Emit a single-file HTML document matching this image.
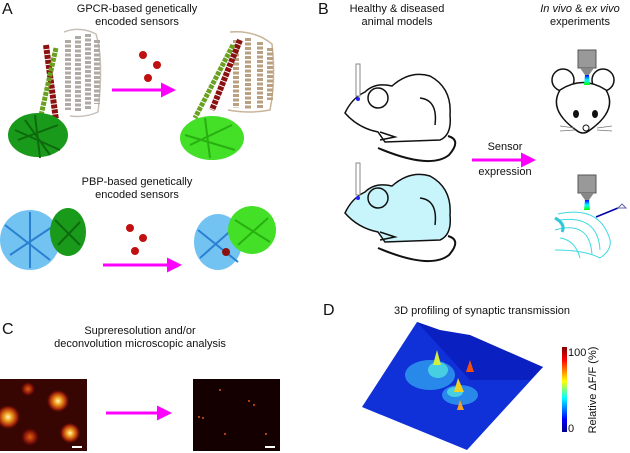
<!DOCTYPE html>
<html><head><meta charset="utf-8"><style>
html,body{margin:0;padding:0;background:#fff;}
svg{display:block;font-family:"Liberation Sans",sans-serif;}
</style></head><body>
<svg width="630" height="453" viewBox="0 0 630 453" xmlns="http://www.w3.org/2000/svg">
<defs>
<marker id="ah" markerWidth="5" markerHeight="5" refX="1" refY="2.5" orient="auto" markerUnits="strokeWidth"><path d="M0,0 L5,2.5 L0,5 z" fill="#f0f"/></marker>
<radialGradient id="blob"><stop offset="0" stop-color="#fff8c0"/><stop offset="0.3" stop-color="#f0a020"/><stop offset="0.7" stop-color="#a02008"/><stop offset="1" stop-color="#300000" stop-opacity="0"/></radialGradient>
<radialGradient id="blob2"><stop offset="0" stop-color="#e06010"/><stop offset="0.6" stop-color="#801008"/><stop offset="1" stop-color="#300000" stop-opacity="0"/></radialGradient>
<linearGradient id="cbar" x1="0" y1="1" x2="0" y2="0"><stop offset="0" stop-color="#00008f"/><stop offset="0.15" stop-color="#0000ff"/><stop offset="0.4" stop-color="#00ffff"/><stop offset="0.6" stop-color="#ffff00"/><stop offset="0.85" stop-color="#ff0000"/><stop offset="1" stop-color="#800000"/></linearGradient>
<linearGradient id="beam" x1="0" y1="0" x2="0" y2="1"><stop offset="0" stop-color="#00f"/><stop offset="0.5" stop-color="#0ff"/><stop offset="1" stop-color="#0f0"/></linearGradient>
</defs>
<g font-size="11" fill="#111" text-anchor="middle">
<text x="2" y="14" font-size="16" text-anchor="start">A</text>
<text x="137" y="12">GPCR-based genetically</text>
<text x="137" y="25">encoded sensors</text>
<text x="137" y="185">PBP-based genetically</text>
<text x="137" y="198">encoded sensors</text>
<text x="318" y="14" font-size="16" text-anchor="start">B</text>
<text x="397" y="12">Healthy &amp; diseased</text>
<text x="397" y="25">animal models</text>
<text x="580" y="12"><tspan font-style="italic">In vivo</tspan> &amp; <tspan font-style="italic">ex vivo</tspan></text>
<text x="580" y="25">experiments</text>
<text x="505" y="150">Sensor</text>
<text x="505" y="175">expression</text>
<text x="2" y="334" font-size="16" text-anchor="start">C</text>
<text x="140" y="334">Supreresolution and/or</text>
<text x="140" y="347">deconvolution microscopic analysis</text>
<text x="323" y="315" font-size="16" text-anchor="start">D</text>
<text x="482" y="314">3D profiling of synaptic transmission</text>
</g>
<!-- A GPCR left -->
<g fill="none">
<path d="M64,32 Q80,26 96,34 Q104,60 98,112 Q85,118 70,116" stroke="#c8c0b8" stroke-width="1.5"/>
<path d="M68,40 V110 M78,36 V112 M88,34 V110 M97,40 V104" stroke="#b0aaa4" stroke-width="6" stroke-dasharray="3 1.5"/>
<path d="M46,45 L56,120" stroke="#8b1010" stroke-width="6" stroke-dasharray="4 1"/>
<path d="M56,48 L40,120" stroke="#6aa020" stroke-width="5" stroke-dasharray="4 1"/>
</g>
<ellipse cx="38" cy="135" rx="30" ry="22" fill="#1a9a1a"/>
<path d="M15,130 L60,150 M18,140 L58,125 M25,120 L50,155 M35,115 L40,158" stroke="#0d6a0d" stroke-width="2"/>
<!-- A GPCR right -->
<g fill="none">
<path d="M230,32 Q255,30 272,44 Q276,80 270,110 Q250,114 228,110" stroke="#c8b498" stroke-width="1.5"/>
<path d="M236,40 V108 M248,38 V110 M260,42 V108 M270,48 V100" stroke="#b8a080" stroke-width="6" stroke-dasharray="3 1.5"/>
<path d="M240,40 L212,110" stroke="#8b1010" stroke-width="6" stroke-dasharray="4 1"/>
<path d="M233,45 L195,118" stroke="#6aa020" stroke-width="5" stroke-dasharray="4 1"/>
</g>
<ellipse cx="212" cy="138" rx="32" ry="22" fill="#44e028"/>
<path d="M185,135 L235,150 M190,145 L232,125 M205,118 L210,158" stroke="#28b010" stroke-width="2"/>
<g fill="#c01010"><circle cx="143" cy="55" r="4"/><circle cx="157" cy="65" r="4"/><circle cx="148" cy="78" r="4"/>
<circle cx="130" cy="228" r="4"/><circle cx="143" cy="238" r="4"/><circle cx="135" cy="251" r="4"/></g>
<line x1="112" y1="90" x2="164" y2="90" stroke="#f0f" stroke-width="3" marker-end="url(#ah)"/>
<line x1="103" y1="265" x2="170" y2="265" stroke="#f0f" stroke-width="3" marker-end="url(#ah)"/>
<!-- PBP -->
<ellipse cx="30" cy="240" rx="30" ry="30" fill="#5ab8f0" opacity="0.85"/>
<path d="M5,225 L50,260 M10,255 L55,225 M30,212 L30,268" stroke="#2a80d0" stroke-width="2"/>
<ellipse cx="68" cy="232" rx="18" ry="24" fill="#1a9a1a"/>
<path d="M55,220 L80,245 M58,245 L80,222" stroke="#0d6a0d" stroke-width="2"/>
<ellipse cx="218" cy="242" rx="24" ry="28" fill="#5ab8f0" opacity="0.85"/>
<path d="M198,230 L238,262 M200,258 L236,226" stroke="#2a80d0" stroke-width="2"/>
<ellipse cx="252" cy="230" rx="24" ry="24" fill="#44e028"/>
<path d="M235,220 L270,242 M238,245 L268,218" stroke="#28b010" stroke-width="2"/>
<circle cx="226" cy="252" r="4" fill="#8b1010"/>
<!-- B mice -->
<g stroke="#111" stroke-width="1.5">
<path d="M345,113 Q352,98 365,92 Q375,82 392,86 Q410,70 430,76 Q452,88 450,115 Q452,135 440,140 L385,142 L378,132 Q358,128 345,113 Z" fill="#fff"/>
<circle cx="378" cy="98" r="10" fill="#fff"/>
<path d="M420,98 Q438,100 435,125" fill="none"/>
<path d="M380,132 L395,137 L380,140" fill="none"/>
<path d="M345,213 Q352,198 365,192 Q375,182 392,186 Q410,170 430,176 Q452,188 450,215 Q452,235 440,240 L385,242 L378,232 Q358,228 345,213 Z" fill="#c8f4fb"/>
<circle cx="378" cy="198" r="10" fill="#c8f4fb"/>
<path d="M420,198 Q438,200 435,225" fill="none"/>
<path d="M380,232 L395,237 L380,240" fill="none"/>
</g>
<path d="M378,148 Q430,170 449,155 Q462,140 448,136" fill="none" stroke="#111" stroke-width="2"/>
<path d="M378,248 Q430,270 449,255 Q462,240 448,236" fill="none" stroke="#111" stroke-width="2"/>
<rect x="356" y="64" width="4" height="32" fill="#fff" stroke="#888"/>
<rect x="356" y="163" width="4" height="32" fill="#fff" stroke="#888"/>
<circle cx="358" cy="99" r="2" fill="#22f"/><circle cx="358" cy="198" r="2" fill="#22f"/>
<line x1="472" y1="160" x2="524" y2="160" stroke="#f0f" stroke-width="3" marker-end="url(#ah)"/>
<!-- face -->
<g stroke="#111" stroke-width="1.5" fill="#fff">
<circle cx="563" cy="80" r="11"/><circle cx="603" cy="80" r="11"/>
<path d="M560,90 Q583,75 606,90 Q618,110 590,130 Q583,136 576,130 Q548,110 560,90 Z"/>
</g>
<ellipse cx="576" cy="114" rx="3" ry="4" fill="#111"/><ellipse cx="595" cy="114" rx="3" ry="4" fill="#111"/>
<circle cx="586" cy="128" r="3" fill="#fff" stroke="#111"/>
<path d="M560,126 L575,128 M560,131 L575,130 M612,126 L597,128 M612,131 L597,130" stroke="#777" stroke-width="0.8"/>
<rect x="578" y="50" width="18" height="18" fill="#999" stroke="#555"/><path d="M580,68 L594,68 L589,75 L585,75 Z" fill="#888"/>
<path d="M585,75 L589,75 L590,85 L584,85 Z" fill="url(#beam)"/>
<rect x="578" y="175" width="18" height="18" fill="#999" stroke="#555"/><path d="M580,193 L594,193 L589,200 L585,200 Z" fill="#888"/>
<path d="M585,200 L589,200 L590,210 L584,210 Z" fill="url(#beam)"/>
<line x1="596" y1="217" x2="618" y2="208" stroke="#00a" stroke-width="1.5"/>
<path d="M618,208 L622,204 L626,208 Z" fill="none" stroke="#66a" stroke-width="1"/>
<g fill="none" stroke="#40d8e0" stroke-width="1">
<path d="M558,214 Q600,205 610,240 Q612,250 600,258"/><path d="M560,220 Q598,215 600,250"/><path d="M555,230 Q590,220 592,255"/>
<path d="M560,238 Q575,240 580,258"/><path d="M555,250 Q585,250 600,258"/>
</g>
<path d="M555,218 Q566,224 562,232" fill="none" stroke="#30c8d8" stroke-width="3"/>
<!-- C images -->
<rect x="0" y="379" width="87" height="72" fill="#2a0402"/>
<g>
<rect x="0" y="379" width="87" height="72" fill="#4a0a04" opacity="0.4"/>
<circle cx="28" cy="389" r="8" fill="url(#blob2)"/>
<circle cx="58" cy="401" r="12" fill="url(#blob)"/>
<circle cx="8" cy="417" r="13" fill="url(#blob)"/>
<circle cx="30" cy="437" r="10" fill="url(#blob2)"/>
<circle cx="70" cy="433" r="11" fill="url(#blob)"/>
</g>
<rect x="72" y="446" width="10" height="2" fill="#fff"/>
<line x1="106" y1="413" x2="160" y2="413" stroke="#f0f" stroke-width="3" marker-end="url(#ah)"/>
<rect x="193" y="379" width="87" height="72" fill="#140000"/>
<g fill="#e05010"><circle cx="220" cy="390" r="1"/><circle cx="249" cy="401" r="1"/><circle cx="254" cy="405" r="1"/><circle cx="199" cy="417" r="1"/><circle cx="203" cy="418" r="1"/><circle cx="225" cy="434" r="1"/><circle cx="266" cy="434" r="1"/></g>
<rect x="265" y="446" width="10" height="2" fill="#fff"/>
<!-- D surface -->
<path d="M362,407 L417,322 L543,367 L467,450 Z" fill="#1030d8"/>
<path d="M417,322 L440,330 L470,335 L543,367 L530,380 L470,380 Z" fill="#0a20c0"/>
<g fill="#30a0f0" opacity="0.8">
<ellipse cx="430" cy="375" rx="25" ry="15"/><ellipse cx="460" cy="395" rx="18" ry="10"/>
</g>
<g fill="#50e0e0" opacity="0.8"><ellipse cx="438" cy="370" rx="10" ry="8"/><ellipse cx="455" cy="392" rx="8" ry="5"/></g>
<path d="M466,372 L470,360 L474,372 Z" fill="#f05010"/>
<path d="M454,392 L458,378 L464,392 Z" fill="#f0d020"/>
<path d="M457,410 L460,400 L464,410 Z" fill="#f0a020"/>
<path d="M433,365 L437,350 L441,365 Z" fill="#d0f040"/>
<rect x="562" y="347" width="5" height="85" fill="url(#cbar)"/>
<g font-size="11" fill="#111"><text x="568" y="356">100</text><text x="568" y="432">0</text>
<text transform="translate(596,390) rotate(-90)" text-anchor="middle">Relative ΔF/F (%)</text></g>
</svg>
</body></html>
